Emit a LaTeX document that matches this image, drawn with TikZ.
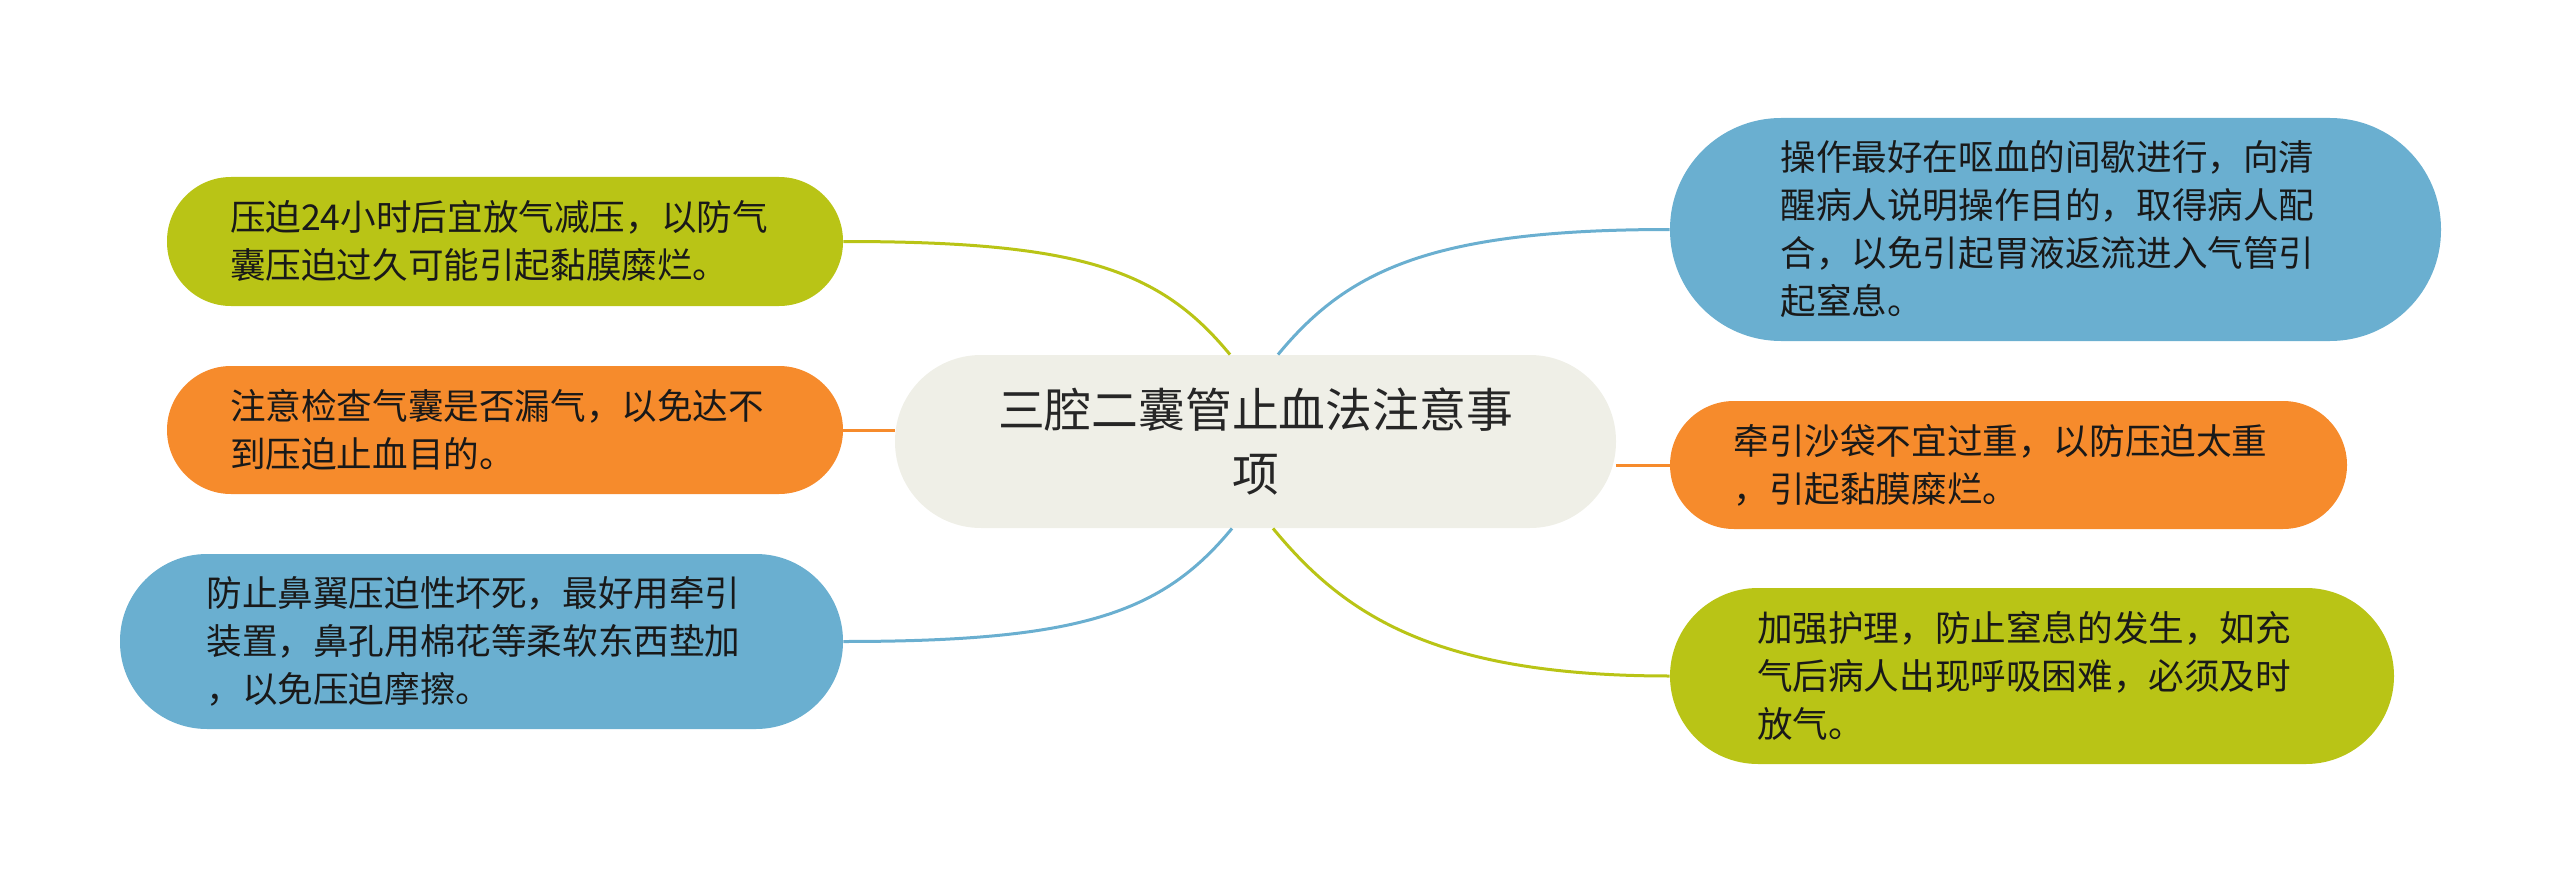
\documentclass[tikz,border=0pt]{standalone}
\usepackage{fontspec}
\setmainfont{Noto Sans CJK SC}
\definecolor{leafgreen}{HTML}{B9C416}
\definecolor{leaforange}{HTML}{F68B2C}
\definecolor{leafblue}{HTML}{6AAFD0}
\definecolor{rootgray}{HTML}{EFEFE7}
\begin{document}
\begin{tikzpicture}[x=0.5pt, y=-0.5pt,
root/.style={rectangle, fill=rootgray, rounded corners=43pt, minimum width=360.5pt, minimum height=86.5pt, inner sep=0pt, align=center, text=black!85, font=\fontsize{23.4}{32}\selectfont},
leaf/.style={rectangle, fill=#1, inner sep=0pt, text width=275pt, align=left, text=black!90, font=\fontsize{17.8}{24}\selectfont},
branch/.style={draw=#1, line width=1.5pt},
]
\useasboundingbox (0,0) rectangle (2560,883);

\node [root] (c) at (1255.5,441.5) {三腔二囊管止血法注意事\\项};

\node [leaf=leafgreen, minimum width=338pt, minimum height=64.5pt, rounded corners=32pt] (l1) at (505,241.5)
	{压迫24小时后宜放气减压，以防气\\囊压迫过久可能引起黏膜糜烂。};
\node [leaf=leaforange, minimum width=338pt, minimum height=64pt, rounded corners=32pt] (l2) at (505,430)
	{注意检查气囊是否漏气，以免达不\\到压迫止血目的。};
\node [leaf=leafblue, minimum width=361.5pt, minimum height=87.5pt, rounded corners=43.5pt] (l3) at (481.5,641.5)
	{防止鼻翼压迫性坏死，最好用牵引\\装置，鼻孔用棉花等柔软东西垫加\\，以免压迫摩擦。};

\node [leaf=leafblue, minimum width=385.5pt, minimum height=111.5pt, rounded corners=55.5pt] (r1) at (2055.5,229.5)
	{操作最好在呕血的间歇进行，向清\\醒病人说明操作目的，取得病人配\\合，以免引起胃液返流进入气管引\\起窒息。};
\node [leaf=leaforange, minimum width=338.5pt, minimum height=64pt, rounded corners=32pt] (r2) at (2008.5,465)
	{牵引沙袋不宜过重，以防压迫太重\\，引起黏膜糜烂。};
\node [leaf=leafgreen, minimum width=362pt, minimum height=88pt, rounded corners=44pt] (r3) at (2032,676)
	{加强护理，防止窒息的发生，如充\\气后病人出现呼吸困难，必须及时\\放气。};

\draw [branch=leafgreen] (l1.east) .. controls +(237,0) and +(-70,-85) .. ([xshift=-12.75pt]c.north);
\draw [branch=leaforange] (l2.east) -- (l2.east -| c.west);
\draw [branch=leafblue] (l3.east) .. controls +(237,0) and +(-70,85) .. ([xshift=-11.75pt]c.south);
\draw [branch=leafblue] ([xshift=11.25pt]c.north) .. controls +(70,-85) and +(-237,0) .. (r1.west);
\draw [branch=leaforange] (c.east |- r2.west) -- (r2.west);
\draw [branch=leafgreen] ([xshift=8.75pt]c.south) .. controls +(70,85) and +(-237,0) .. (r3.west);
\end{tikzpicture}
\end{document}
